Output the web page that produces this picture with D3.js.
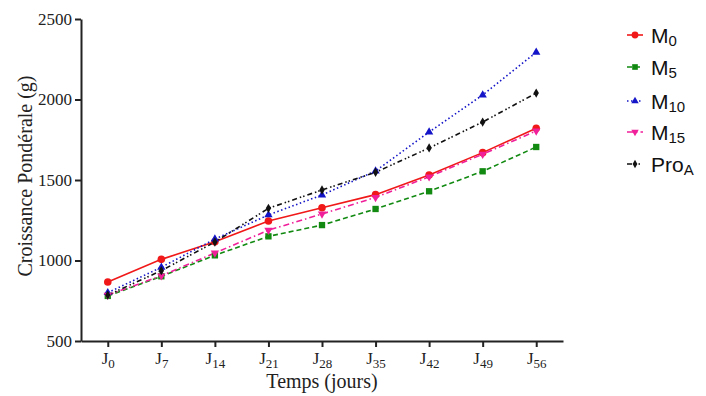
<!DOCTYPE html>
<html lang="fr">
<head>
<meta charset="UTF-8">
<title>Croissance Pondérale</title>
<script src="https://d3js.org/d3.v7.min.js"></script>
<style>
    body { margin: 0; background: #fff; }
    .axis path, .axis line { stroke: #222; stroke-width: 2px; }
    .title { font-family: "Liberation Serif", "Times New Roman", serif; font-size: 20px; fill: #222; }
    .legend text { font-family: "Liberation Sans", Arial, sans-serif; font-size: 21px; fill: #111; }
</style>
</head>
<body>
<svg width="706" height="396"></svg>
<script>
// Jours de mesure
const jours = ["0", "7", "14", "21", "28", "35", "42", "49", "56"];
const yTicks = [500, 1000, 1500, 2000, 2500];

// Poids moyens (g)
const m0   = [866, 1007, 1117, 1245, 1328, 1409, 1531, 1670, 1821];
const m5   = [780,  902, 1032, 1150, 1220, 1320, 1430, 1554, 1705];
const m10  = [800,  958, 1133, 1283, 1407, 1556, 1798, 2028, 2293];
const m15  = [785,  905, 1047, 1188, 1289, 1392, 1520, 1660, 1805];
const proA = [785,  937, 1115, 1324, 1438, 1548, 1699, 1860, 2040];

const series = [
    { name: "M", sub: "0",  values: m0,   color: "#f01818", dash: null,          symbol: d3.symbolCircle,   size: 45 },
    { name: "M", sub: "5",  values: m5,   color: "#128a12", dash: "5,3",         symbol: d3.symbolSquare,   size: 40 },
    { name: "M", sub: "10", values: m10,  color: "#1414c8", dash: "1.5,2.5",     symbol: d3.symbolTriangle, size: 30 },
    { name: "M", sub: "15", values: m15,  color: "#f0209a", dash: "6,3,1.5,3",   symbol: "down",            size: 30 },
    { name: "Pro", sub: "A", values: proA, color: "#111111", dash: "5,3,1.5,2,1.5,3", symbol: d3.symbolDiamond, size: 25 }
];

const svg = d3.select("svg");
const x = d3.scalePoint().domain(jours).range([81, 563]).padding(0.5);
const y = d3.scaleLinear().domain([500, 2500]).range([341, 19]);

const serif = "'Liberation Serif', 'Times New Roman', serif";

// Axes
const xAxis = svg.append("g")
    .attr("class", "axis")
    .attr("transform", "translate(0,341)")
    .call(d3.axisBottom(x).tickSize(6).tickSizeOuter(0).tickFormat(""));
xAxis.selectAll(".tick text").remove();
xAxis.selectAll(".tick").append("text")
    .attr("y", 23)
    .attr("text-anchor", "middle")
    .attr("font-family", serif)
    .attr("font-size", "17px")
    .attr("fill", "#222")
    .each(function(d) {
        const t = d3.select(this);
        t.append("tspan").text("J");
        t.append("tspan").attr("dy", 4).attr("font-size", "13px").text(d);
    });

const yAxis = svg.append("g")
    .attr("class", "axis")
    .attr("transform", "translate(81,0)")
    .call(d3.axisLeft(y).tickValues(yTicks).tickSize(6).tickSizeOuter(0).tickPadding(3).tickFormat(d3.format("d")));
yAxis.selectAll(".tick text")
    .attr("font-family", serif)
    .attr("font-size", "17px")
    .attr("fill", "#222");

svg.append("text").attr("class", "title")
    .attr("x", 322).attr("y", 388)
    .attr("text-anchor", "middle")
    .text("Temps (jours)");

svg.append("text").attr("class", "title")
    .attr("transform", "translate(32,176) rotate(-90)")
    .attr("text-anchor", "middle")
    .text("Croissance Pondérale (g)");

// Courbes
const line = d3.line().x((d, i) => x(jours[i])).y(d => y(d));

function sym(s) {
    return d3.symbol(s.symbol === "down" ? d3.symbolTriangle : s.symbol, s.size)();
}

series.forEach(s => {
    svg.append("path")
        .datum(s.values)
        .attr("fill", "none")
        .attr("stroke", s.color)
        .attr("stroke-width", 1.6)
        .attr("stroke-dasharray", s.dash)
        .attr("d", line);
});
series.forEach(s => {
    svg.selectAll(null)
        .data(s.values)
        .enter().append("path")
        .attr("d", sym(s))
        .attr("fill", s.color)
        .attr("transform", (d, i) => `translate(${x(jours[i])},${y(d)})` + (s.symbol === "down" ? " rotate(180)" : ""));
});

// Légende
const legend = svg.append("g").attr("class", "legend");
const legY = [35, 67, 101, 132, 164];
series.forEach((s, i) => {
    const g = legend.append("g").attr("transform", `translate(0,${legY[i]})`);
    g.append("line")
        .attr("x1", 627).attr("x2", 643)
        .attr("stroke", s.color).attr("stroke-width", 1.6)
        .attr("stroke-dasharray", s.dash);
    g.append("path")
        .attr("d", sym({ symbol: s.symbol, size: s.size * 0.8 }))
        .attr("fill", s.color)
        .attr("transform", "translate(635,0)" + (s.symbol === "down" ? " rotate(180)" : ""));
    const t = g.append("text").attr("x", 651).attr("y", 8);
    t.append("tspan").text(s.name);
    t.append("tspan").attr("dy", 3).attr("font-size", "15px").text(s.sub);
});
</script>
</body>
</html>
